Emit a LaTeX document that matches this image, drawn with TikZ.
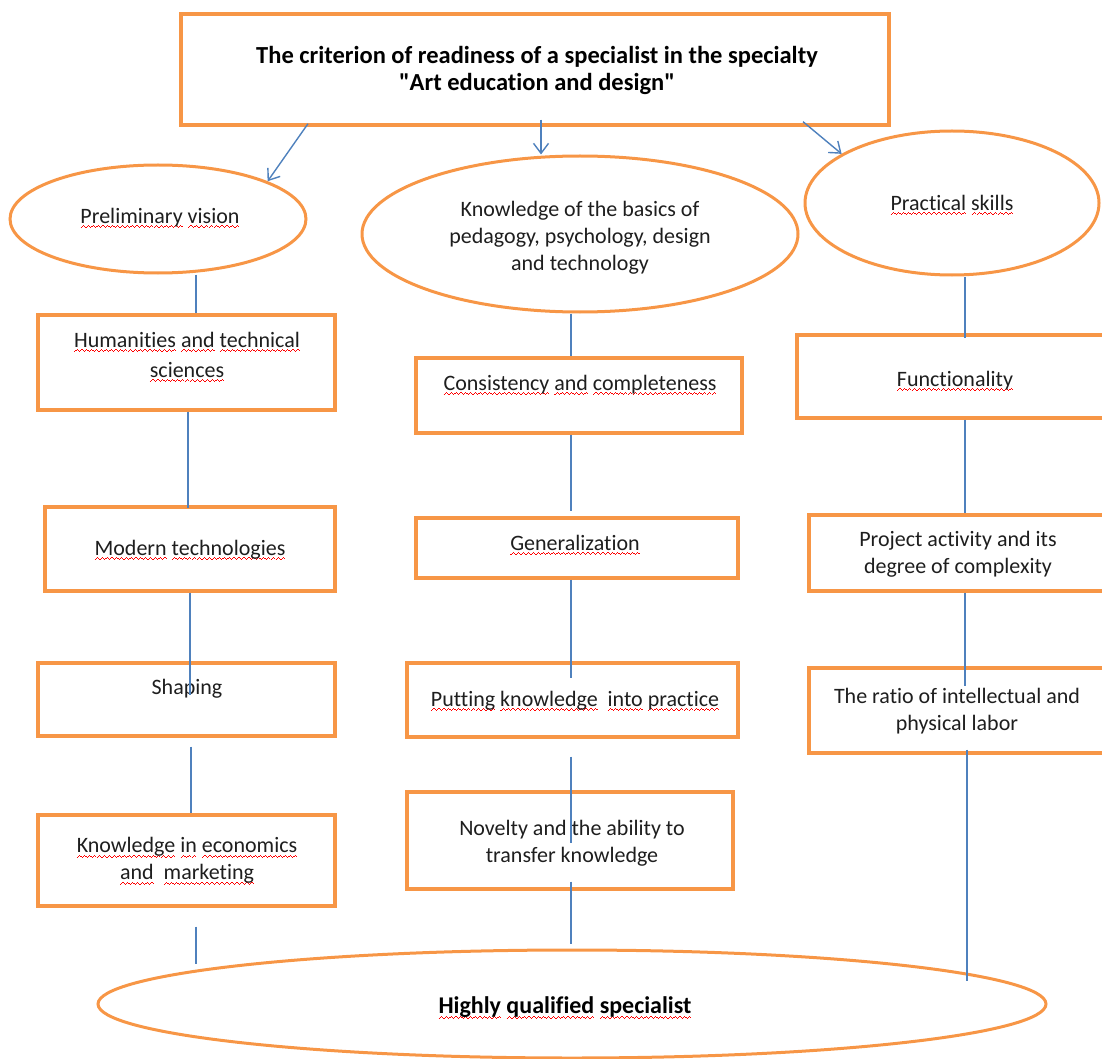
\documentclass[tikz,border=0pt]{standalone}
\usepackage{fontspec}
\setmainfont{Carlito}[Ligatures={TeXOff,NoCommon}]
\usetikzlibrary{shapes.geometric,arrows.meta}
\definecolor{boxorange}{HTML}{F79646}
\definecolor{lineblue}{HTML}{4F81BD}
\definecolor{textgray}{HTML}{1E1E1E}
\newsavebox\sqbox
\newcommand\wavepiece{\rule{1.2pt}{1pt}\raisebox{1pt}{\rule{1.2pt}{1pt}}\raisebox{2pt}{\rule{1.2pt}{1pt}}\raisebox{1pt}{\rule{1.2pt}{1pt}}}
\newcommand\sq[1]{\sbox\sqbox{#1}\rlap{\textcolor{red}{\lower5pt\hbox to \wd\sqbox{\xleaders\hbox{\wavepiece}\hfill}}}\usebox\sqbox}
\begin{document}
\begin{tikzpicture}[x=1pt,y=-1pt,
  shapebox/.style={draw=boxorange, line width=3.4pt, rectangle, inner sep=0pt},
  oval/.style={draw=boxorange, line width=3pt, ellipse, inner sep=0pt},
  lbl/.style={font=\fontsize{22}{27}\selectfont, align=center, inner sep=0pt, text=textgray},
  lblb/.style={font=\fontsize{24.5}{27}\selectfont\bfseries, align=center, inner sep=0pt, text=black},
  conn/.style={draw=lineblue, line width=1.4pt},
  arr/.style={conn, -{Straight Barb[length=10pt,width=15pt]}}]
\useasboundingbox (0,0) rectangle (1102,1059);

% column x positions
\coordinate (xa) at (196,0);
\coordinate (xb) at (188,0);
\coordinate (xc) at (190,0);
\coordinate (xd) at (191,0);
\coordinate (xm) at (571,0);
\coordinate (xA) at (541,0);
\coordinate (xr) at (965,0);
\coordinate (xs) at (967,0);

% shapes
\node[shapebox, minimum width=708pt, minimum height=111pt] (top) at (535,69.5) {};
\node[oval, minimum width=296pt, minimum height=108pt] (pv) at (158,219) {};
\node[oval, minimum width=436pt, minimum height=156pt] (e2) at (580,234) {};
\node[oval, minimum width=294pt, minimum height=144pt] (e3) at (952,203) {};

\node[shapebox, minimum width=297pt, minimum height=95pt] (hum) at (186.5,362.5) {};
\node[shapebox, minimum width=290pt, minimum height=84pt] (mod) at (190,549) {};
\node[shapebox, minimum width=297pt, minimum height=73pt] (sh) at (186.5,699.5) {};
\node[shapebox, minimum width=297pt, minimum height=91pt] (kno) at (186.5,860.5) {};

\node[shapebox, minimum width=326pt, minimum height=75pt] (m1) at (579,395.5) {};
\node[shapebox, minimum width=322pt, minimum height=60pt] (m2) at (577,548) {};
\node[shapebox, minimum width=331pt, minimum height=74pt] (m3) at (572.5,700) {};
\node[shapebox, minimum width=326pt, minimum height=97pt] (m4) at (570,840.5) {};

\node[shapebox, minimum width=318pt, minimum height=83pt] (r1) at (956,376.5) {};
\node[shapebox, minimum width=298pt, minimum height=76pt] (r2) at (958,553) {};
\node[shapebox, minimum width=296pt, minimum height=85pt] (r3) at (957,710.5) {};

\node[oval, minimum width=948pt, minimum height=108pt] (hq) at (572,1004) {};

% texts
\node[lblb] (topt) at (537,70) {The criterion of readiness of a specialist in the specialty\\"Art education and design"};
\node[lbl] (pvt) at (160,218) {\sq{Preliminary} \sq{vision}};
\node[lbl] (e2t) at (580,238) {Knowledge of the basics of\\pedagogy, psychology, design\\and technology};
\node[lbl] (e3t) at (952,205) {\sq{Practical} \sq{skills}};

\node[lbl] (humt) at (187,357) {\sq{Humanities} \sq{and} \sq{technical}\\[3pt]\sq{sciences}};
\node[lbl] (modt) at (190,550) {\sq{Modern} \sq{technologies}};
\node[lbl] (sht) at (187,689) {Shaping};
\node[lbl] (knot) at (187,861) {\sq{Knowledge} \sq{in} \sq{economics}\\\sq{and}~ \sq{marketing}};

\node[lbl] (m1t) at (580,385) {\sq{Consistency} \sq{and} \sq{completeness}};
\node[lbl] (m2t) at (575,545) {\sq{Generalization}};
\node[lbl] (m3t) at (575,701) {\sq{Putting} \sq{knowledge}~ \sq{into} \sq{practice}};
\node[lbl] (m4t) at (572,843) {Novelty and the ability to\\transfer knowledge};

\node[lbl] (r1t) at (955,381) {\sq{Functionality}};
\node[lbl] (r2t) at (958,554) {Project activity and its\\degree of complexity};
\node[lbl] (r3t) at (957,711) {The ratio of intellectual and\\physical labor};

\node[lblb, font=\fontsize{24}{27}\selectfont\bfseries] (hqt) at (565,1008) {\sq{Highly} \sq{qualified} \sq{specialist}};

% arrows from the top box
\draw[arr] ([xshift=-227pt,yshift=3pt]top.south) -- (pv.19.5);
\draw[arr] ([yshift=7pt]top.south -| xA) -- (e2.north -| xA);
\draw[arr] ([xshift=268pt,yshift=5pt]top.south) -- (e3.156);

% left column
\draw[conn] (pv.south -| xa) -- (hum.north -| xa);
\draw[conn] (hum.south -| xb) -- ([yshift=-3pt]mod.north -| xb);
\draw[conn] (mod.south -| xc) -- ([yshift=-34pt]sh.north -| xc);
\draw[conn] ([yshift=-9pt]sh.south -| xd) -- (kno.north -| xd);
\draw[conn] ([yshift=-19pt]kno.south -| xa) -- ([yshift=-56pt]kno.south -| xa);

% middle column
\draw[conn] (e2.south -| xm) -- (m1.north -| xm);
\draw[conn] (m1.south -| xm) -- ([yshift=5pt]m2.north -| xm);
\draw[conn] (m2.south -| xm) -- ([yshift=-17pt]m3.north -| xm);
\draw[conn] ([yshift=-18pt]m3.south -| xm) -- ([yshift=-53pt]m4.north -| xm);
\draw[conn] ([yshift=9pt]m4.south -| xm) -- ([yshift=5pt]hq.north -| xm);

% right column
\draw[conn] (e3.south -| xr) -- ([yshift=-5pt]r1.north -| xr);
\draw[conn] (r1.south -| xr) -- (r2.north -| xr);
\draw[conn] (r2.south -| xr) -- ([yshift=-20pt]r3.north -| xr);
\draw[conn] ([yshift=5pt]r3.south -| xs) -- ([yshift=-6pt]hq.4.3 -| xs);
\end{tikzpicture}
\end{document}
